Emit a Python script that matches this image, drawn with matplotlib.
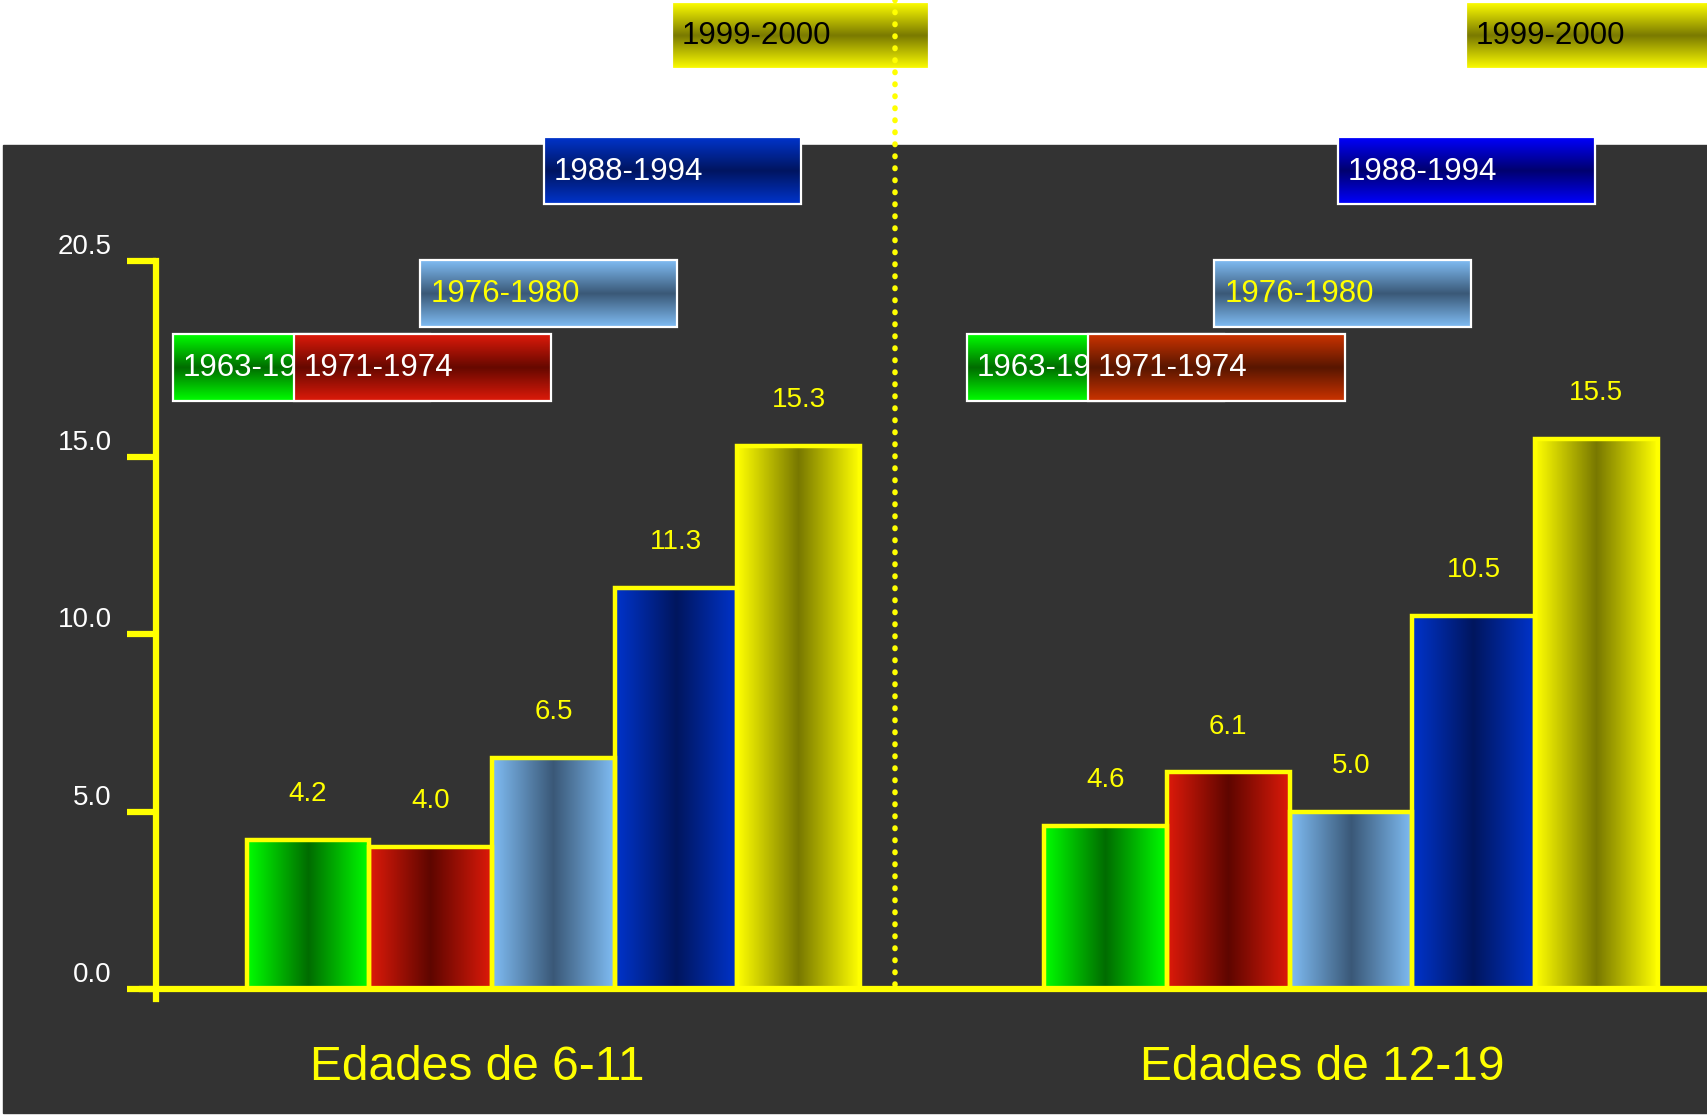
import numpy as np
import matplotlib
matplotlib.use("Agg")
import matplotlib.pyplot as plt
from matplotlib.colors import LinearSegmentedColormap
from matplotlib.patches import Rectangle

plt.rcParams['font.family'] = ['Liberation Sans', 'DejaVu Sans']

# ---- data -------------------------------------------------------------
groups = ["Edades de 6-11", "Edades de 12-19"]
periods = ["1963-1970", "1971-1974", "1976-1980", "1988-1994", "1999-2000"]
values_6_11 = [4.2, 4.0, 6.5, 11.3, 15.3]
values_12_19 = [4.6, 6.1, 5.0, 10.5, 15.5]
ytick_values = [0.0, 5.0, 10.0, 15.0, 20.5]

# ---- styling ----------------------------------------------------------
YELLOW = "#ffff00"
DARK_BG = "#333333"
# bar gradients: (edge colour, centre colour)
bar_grad = [("#00ff00", "#006c00"), ("#de1a0a", "#5e0600"),
            ("#80bdf4", "#3a5877"), ("#0034cc", "#00165e"),
            ("#ffff00", "#787800")]
# legend tiles per panel: (edge colour, centre colour, text colour)
tiles_left = [("#00ff00", "#006c00", "white"), ("#de1a0a", "#660800", "white"),
              ("#80bdf4", "#3a5877", YELLOW), ("#0034cc", "#001560", "white"),
              ("#ffff00", "#7a7a00", "black")]
tiles_right = [("#00ff00", "#006c00", "white"), ("#cc3300", "#581600", "white"),
               ("#80bdf4", "#3a5877", YELLOW), ("#0000ff", "#00006e", "white"),
               ("#ffff00", "#7a7a00", "black")]

W, H = 1708, 1115
fig = plt.figure(figsize=(W / 100, H / 100), dpi=100, facecolor="white")


def gradient(ax, x0, x1, y0, y1, edge, mid, vertical, z):
    cmap = LinearSegmentedColormap.from_list("g", [edge, mid, edge])
    ramp = np.linspace(0, 1, 256)
    arr = ramp[:, None] if vertical else ramp[None, :]
    ax.imshow(arr, cmap=cmap, extent=(x0, x1, y0, y1), aspect="auto",
              interpolation="bilinear", zorder=z)


# ---- decoration layer in pixel units (origin top-left) ----------------
deco = fig.add_axes([0, 0, 1, 1])
deco.axis("off")
deco.add_patch(Rectangle((3, 145), W - 3, 1113 - 145, color=DARK_BG, zorder=0))

tile_w, tile_h = 257, 67
tile_pos = [(173, 334), (294, 334), (420.5, 260), (543.6, 137), (672, 2)]
panel_shift = [0, 794]
for shift, tiles in zip(panel_shift, [tiles_left, tiles_right]):
    for k, (name, (tx, ty), (edge, mid, tcol)) in enumerate(zip(periods, tile_pos, tiles)):
        x0 = tx + shift
        z = 2 + k
        gradient(deco, x0, x0 + tile_w, ty + tile_h, ty, edge, mid, True, z)
        deco.add_patch(Rectangle((x0, ty), tile_w, tile_h, fill=False,
                                 edgecolor="white", lw=1.6, zorder=z + 0.1))
        txt = deco.text(x0 + 10, ty + tile_h / 2 + 1, name, color=tcol,
                        fontsize=22.5, ha="left", va="center", zorder=z + 0.2)
        if k == 0:
            # the first tile sits under the second one; keep its caption
            # inside the visible part
            visible = tile_pos[1][0] - tx
            clip = Rectangle((x0, ty), visible, tile_h, transform=deco.transData,
                             visible=False)
            deco.add_patch(clip)
            txt.set_clip_path(clip)

# separator between the two age groups
deco.plot([895, 895], [0, 993], color=YELLOW, lw=4,
          linestyle=(0, (0.1, 2.06)), dash_capstyle="round", zorder=20)

# group captions
label_px = [477, 1322]
for name, lx in zip(groups, label_px):
    deco.text(lx, 1068, name, color=YELLOW, fontsize=34.5, ha="center", va="center")

deco.set_xlim(0, W)
deco.set_ylim(H, 0)

# ---- data layer --------------------------------------------------------
ax = fig.add_axes([0, 0, 1, 1])
ax.patch.set_alpha(0)

px_x, x_origin = 122.7, 553.4     # pixels per bar width, centre of first group
px_y, y_origin = 35.5, 989.0      # pixels per unit, baseline row
group_gap = 6.5

for g, vals in enumerate([values_6_11, values_12_19]):
    for i, v in enumerate(vals):
        xc = g * group_gap + (i - 2)
        edge, mid = bar_grad[i]
        gradient(ax, xc - 0.5, xc + 0.5, 0, v, edge, mid, False, 1)
        ax.add_patch(Rectangle((xc - 0.5, 0), 1, v, fill=False,
                               edgecolor=YELLOW, lw=3.2, zorder=1.5))
        ax.annotate(f"{v:.1f}", xy=(xc, v), xytext=(0, 33),
                    textcoords="offset points", ha="center", va="center",
                    color=YELLOW, fontsize=20)

xmin = -x_origin / px_x
xmax = (W - x_origin) / px_x
yaxis_x = (156 - x_origin) / px_x

for s in ["top", "right"]:
    ax.spines[s].set_visible(False)
ax.spines["left"].set_position(("data", yaxis_x))
ax.spines["left"].set_bounds(-0.28, 20.5)
ax.spines["bottom"].set_position(("data", 0))
ax.spines["bottom"].set_bounds((142 - x_origin) / px_x, xmax)
for s in ["left", "bottom"]:
    ax.spines[s].set_color(YELLOW)
    ax.spines[s].set_linewidth(4.5)
    ax.spines[s].set_zorder(3)

ax.set_xticks([])
ax.set_yticks(ytick_values)
ax.tick_params(axis="y", length=21, width=4.5, color=YELLOW, direction="out",
               labelleft=False)
for t in ytick_values:
    ax.annotate(f"{t:.1f}", xy=(yaxis_x, t), xytext=(-32, 10),
                textcoords="offset points", ha="right", va="center",
                color="white", fontsize=20)

ax.set_xlim(xmin, xmax)
ax.set_ylim((y_origin - H) / px_y, y_origin / px_y)

fig.savefig("out.png", dpi=100, facecolor="white")
